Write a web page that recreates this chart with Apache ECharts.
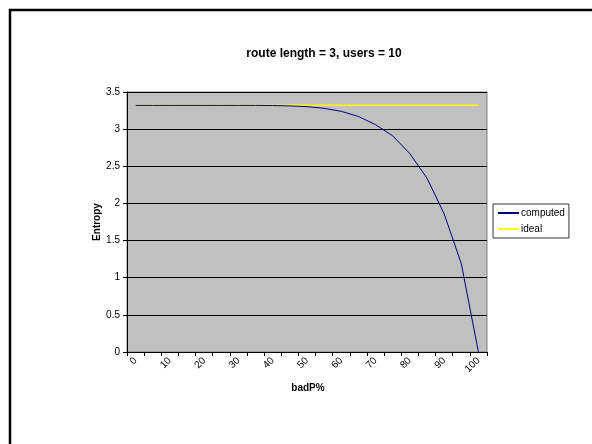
<!DOCTYPE html>
<html>
<head>
<meta charset="utf-8">
<script src="https://cdn.jsdelivr.net/npm/echarts@6/dist/echarts.min.js"></script>
<style>
html,body{margin:0;padding:0;background:#fff;}
#chart{width:592px;height:444px;}
</style>
</head>
<body>
<div id="chart"></div>
<script>
const categories = ['0','5','10','15','20','25','30','35','40','45','50','55','60','65','70','75','80','85','90','95','100'];
const computed = [3.32,3.32,3.32,3.32,3.32,3.32,3.32,3.32,3.318,3.313,3.303,3.28,3.24,3.17,3.06,2.91,2.67,2.34,1.86,1.19,0];
const ideal = [3.32,3.32,3.32,3.32,3.32,3.32,3.32,3.32,3.32,3.32,3.32,3.32,3.32,3.32,3.32,3.32,3.32,3.32,3.32,3.32,3.32];
const yTicks = {min:0, max:3.5, interval:0.5};
const titleText = 'route length = 3, users = 10';
const xName = 'badP%';
const yName = 'Entropy';

const font = 'Arial, "Liberation Sans", sans-serif';
const chart = echarts.init(document.getElementById('chart'), null, {renderer:'canvas'});
chart.setOption({
  animation:false,
  backgroundColor:'#fff',
  graphic:[
    {type:'rect', shape:{x:10, y:10, width:620, height:480}, style:{fill:'none', stroke:'#000', lineWidth:2.5}, silent:true},
    {type:'text', x:324, y:54, style:{text:titleText, font:'bold 12px ' + font, fill:'#000', textAlign:'center', textVerticalAlign:'middle'}},
    {type:'text', x:308, y:388, style:{text:xName, font:'bold 10px ' + font, fill:'#000', textAlign:'center', textVerticalAlign:'middle'}},
    {type:'text', x:97, y:222, rotation:Math.PI/2, style:{text:yName, font:'bold 10px ' + font, fill:'#000', textAlign:'center', textVerticalAlign:'middle'}}
  ],
  grid:{left:127, top:92, width:360, height:260, show:true, backgroundColor:'#C0C0C0', borderColor:'#808080', borderWidth:1},
  legend:{
    orient:'vertical', left:493, top:204,
    itemWidth:21, itemHeight:2, itemGap:4,
    icon:'rect',
    textStyle:{fontFamily:font, fontSize:10, color:'#000', lineHeight:12, padding:[0,0,0,-3]},
    borderColor:'#333', borderWidth:1, padding:[3,4,3,5],
    data:[{name:'computed'},{name:'ideal'}]
  },
  xAxis:{
    type:'category', data:categories, boundaryGap:true,
    axisLine:{lineStyle:{color:'#000', width:1}},
    axisTick:{show:true, interval:0, length:4, lineStyle:{color:'#000'}},
    axisLabel:{interval:1, rotate:45, fontFamily:font, fontSize:10, color:'#000', margin:7},
    splitLine:{show:false}
  },
  yAxis:{
    type:'value', min:yTicks.min, max:yTicks.max, interval:yTicks.interval,
    axisLine:{show:true, lineStyle:{color:'#000', width:1}},
    axisTick:{show:true, length:4, lineStyle:{color:'#000'}},
    axisLabel:{fontFamily:font, fontSize:10, color:'#000', margin:7},
    splitLine:{show:true, lineStyle:{color:'#000', width:1}}
  },
  series:[
    {name:'computed', type:'line', data:computed, symbol:'none', lineStyle:{color:'#000080', width:1}, itemStyle:{color:'#000080'}, z:3},
    {name:'ideal', type:'line', data:ideal, symbol:'none', lineStyle:{color:'#FFFF00', width:1.5}, itemStyle:{color:'#FFFF00'}, z:2}
  ]
});
</script>
</body>
</html>
